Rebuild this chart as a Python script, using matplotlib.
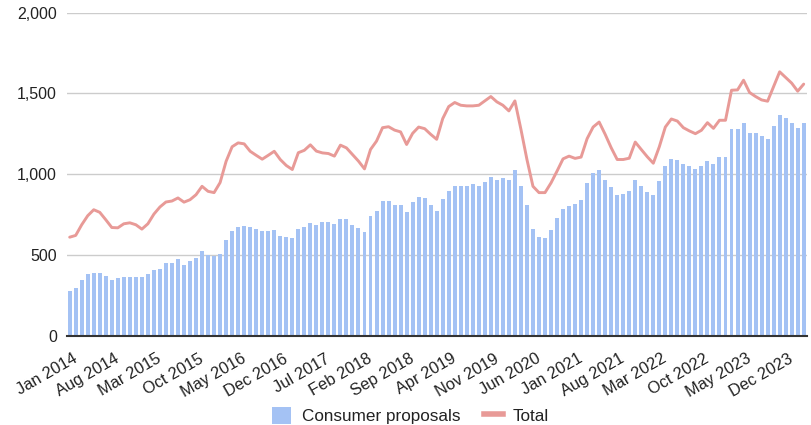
#!/usr/bin/env python3
"""Monthly consumer proposals vs total insolvencies, Jan 2014 - Mar 2024."""

import matplotlib
matplotlib.use("Agg")
import matplotlib.pyplot as plt
import matplotlib.ticker as ticker
import matplotlib.transforms as mtransforms
from matplotlib.lines import Line2D
from matplotlib.patches import Patch
import numpy as np

plt.rcParams["font.family"] = ["Liberation Sans", "DejaVu Sans"]

BAR_COLOR = "#a4c2f4"
LINE_COLOR = "#e89a97"
TEXT_COLOR = "#222222"

MONTH_NAMES = ["Jan", "Feb", "Mar", "Apr", "May", "Jun",
               "Jul", "Aug", "Sep", "Oct", "Nov", "Dec"]

CONSUMER_PROPOSALS = [
    276, 295, 345, 379, 387, 387, 370, 347, 355, 362, 362, 362,      # 2014
    362, 379, 406, 415, 449, 449, 474, 440, 465, 481, 524, 499,      # 2015
    492, 506, 593, 646, 671, 679, 671, 662, 646, 646, 654, 619,      # 2016
    611, 603, 662, 674, 700, 685, 702, 702, 694, 720, 720, 685,      # 2017
    668, 641, 739, 774, 834, 834, 810, 810, 764, 827, 860, 852,      # 2018
    810, 774, 845, 894, 929, 929, 929, 937, 929, 954, 981, 966,      # 2019
    975, 966, 1024, 929, 810, 660, 609, 607, 656, 726, 787, 805,     # 2020
    813, 840, 945, 1008, 1029, 967, 921, 870, 878, 895, 967, 930,    # 2021
    889, 870, 955, 1053, 1097, 1090, 1063, 1053, 1034, 1053, 1080, 1063,  # 2022
    1105, 1105, 1282, 1282, 1315, 1253, 1253, 1236, 1220, 1299, 1367, 1351,  # 2023
    1315, 1288, 1315,                                                # 2024
]

TOTAL = [
    610, 621, 687, 743, 780, 764, 718, 670, 668, 693, 699, 687,
    660, 693, 753, 797, 828, 834, 853, 827, 842, 873, 925, 894,
    886, 948, 1080, 1170, 1194, 1188, 1142, 1117, 1093, 1117, 1142, 1091,
    1054, 1029, 1133, 1148, 1182, 1143, 1132, 1128, 1112, 1180, 1163, 1122,
    1081, 1033, 1153, 1205, 1288, 1294, 1273, 1262, 1184, 1253, 1292, 1282,
    1247, 1216, 1344, 1419, 1444, 1427, 1423, 1423, 1427, 1454, 1481, 1448,
    1427, 1392, 1454, 1278, 1091, 925, 886, 886, 946, 1019, 1095, 1112,
    1098, 1106, 1220, 1292, 1323, 1247, 1164, 1091, 1091, 1099, 1199, 1153,
    1108, 1068, 1170, 1292, 1342, 1329, 1288, 1268, 1251, 1272, 1319, 1284,
    1334, 1334, 1520, 1522, 1582, 1506, 1481, 1460, 1452, 1543, 1634, 1599,
    1564, 1514, 1558,
]

MONTHS = [f"{m} {y}" for y in range(2014, 2025) for m in MONTH_NAMES][:len(CONSUMER_PROPOSALS)]
TICK_STEP = 7
TICK_LABELS = MONTHS[::TICK_STEP]
Y_TICKS = [0, 500, 1000, 1500, 2000]


def main():
    fig = plt.figure(figsize=(8.12, 4.25), dpi=100)
    ax = fig.add_axes([0.0821, 0.2101, 0.9114, 0.760])

    x = np.arange(len(MONTHS))
    ax.bar(x, CONSUMER_PROPOSALS, width=0.66, color=BAR_COLOR, zorder=2)
    ax.plot(x, TOTAL, color=LINE_COLOR, lw=2.1, zorder=3,
            solid_joinstyle="round", solid_capstyle="round")

    ax.set_xlim(-0.5, len(MONTHS) - 0.5)
    ax.set_ylim(0, 2000)
    ax.set_yticks(Y_TICKS)
    ax.yaxis.set_major_formatter(ticker.FuncFormatter(lambda v, _: f"{v:,.0f}"))
    ax.grid(axis="y", color="#cccccc", lw=1)
    ax.set_axisbelow(True)

    for side in ["top", "right", "left"]:
        ax.spines[side].set_visible(False)
    ax.spines["bottom"].set_color("#333333")
    ax.spines["bottom"].set_linewidth(1.5)
    ax.spines["bottom"].set_zorder(4)

    ax.tick_params(axis="y", length=0, pad=7, labelsize=11.5, labelcolor=TEXT_COLOR)
    ax.set_xticks(x[::TICK_STEP], TICK_LABELS, rotation=30, ha="right")
    ax.tick_params(axis="x", length=0, pad=11, labelsize=11.8, labelcolor=TEXT_COLOR)

    # google-style labels sit a bit right of the tick
    offset = mtransforms.ScaledTranslation(10 / 100, 0, fig.dpi_scale_trans)
    for lab in ax.get_xticklabels():
        lab.set_transform(lab.get_transform() + offset)

    handles = [Patch(facecolor=BAR_COLOR, edgecolor="none"),
               Line2D([0], [0], color=LINE_COLOR, lw=4)]
    fig.legend(handles, ["Consumer proposals", "Total"], loc="center",
               bbox_to_anchor=(0.506, 0.022), ncol=2, frameon=False,
               fontsize=12.3, handlelength=1.1, handleheight=1.1,
               handletextpad=0.6, columnspacing=1.4, labelcolor=TEXT_COLOR)

    fig.savefig("out.png", dpi=100, facecolor="white")
    plt.close(fig)


if __name__ == "__main__":
    main()
